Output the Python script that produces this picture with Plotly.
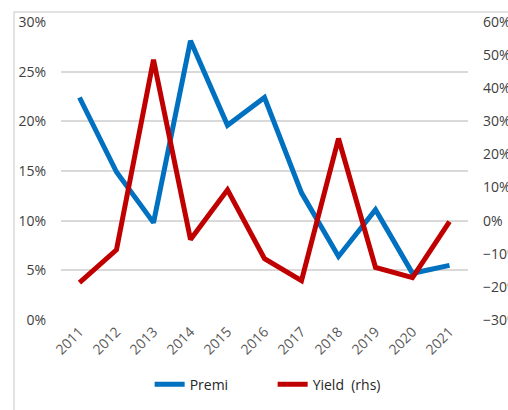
import plotly.graph_objects as go

years = ["2011", "2012", "2013", "2014", "2015", "2016", "2017", "2018", "2019", "2020", "2021"]
premi = [0.224, 0.149, 0.098, 0.281, 0.196, 0.224, 0.128, 0.064, 0.111, 0.047, 0.055]
yield_rhs = [-0.187, -0.088, 0.486, -0.057, 0.093, -0.115, -0.181, 0.248, -0.141, -0.172, -0.003]

left_ticks = [0, 0.05, 0.10, 0.15, 0.20, 0.25, 0.30]
right_ticks = [-0.3, -0.2, -0.1, 0, 0.1, 0.2, 0.3, 0.4, 0.5, 0.6]

BLUE = "#0070C0"
RED = "#C00000"
TXT = "#404040"
FONT = "Open Sans"

fig = go.Figure()
fig.add_trace(go.Scatter(x=years, y=premi, name="Premi", mode="lines",
                         line=dict(color=BLUE, width=5), yaxis="y"))
fig.add_trace(go.Scatter(x=years, y=yield_rhs, name="Yield\u00a0\u00a0(rhs)", mode="lines",
                         line=dict(color=RED, width=5), yaxis="y2"))

fig.update_layout(
    width=508, height=410,
    margin=dict(l=61, r=40, t=22, b=90, autoexpand=False),
    paper_bgcolor="white", plot_bgcolor="white",
    font=dict(family=FONT, size=14, color=TXT),
    showlegend=True,
    legend=dict(orientation="h", x=0.52, xanchor="center",
                yref="container", y=0.062, yanchor="middle",
                font=dict(size=14, color="#262626"), entrywidth=78, tracegroupgap=0),
    xaxis=dict(type="category", range=[-0.5, 10.5], tickangle=-45, showgrid=False,
               showline=False, ticks="", automargin=False,
               tickfont=dict(size=14, color="#595959")),
    yaxis=dict(range=[0, 0.30], tickvals=left_ticks, tickformat=".0%",
               showgrid=True, gridcolor="#d9d9d9", gridwidth=1.5, automargin=False,
               zeroline=False, showline=False, ticks="", ticklabelstandoff=14),
    yaxis2=dict(range=[-0.30, 0.60], tickvals=right_ticks, tickformat=".0%",
                overlaying="y", side="right", showgrid=False, zeroline=False,
                automargin=False, showline=False, ticks="", ticklabelstandoff=14),
    shapes=[dict(type="rect", xref="paper", yref="paper",
                 x0=-0.1155, x1=1.2, y0=-0.5, y1=1.0336,
                 line=dict(color="#d9d9d9", width=1.5), fillcolor="rgba(0,0,0,0)",
                 layer="below")],
)

fig.write_html("out.html")
